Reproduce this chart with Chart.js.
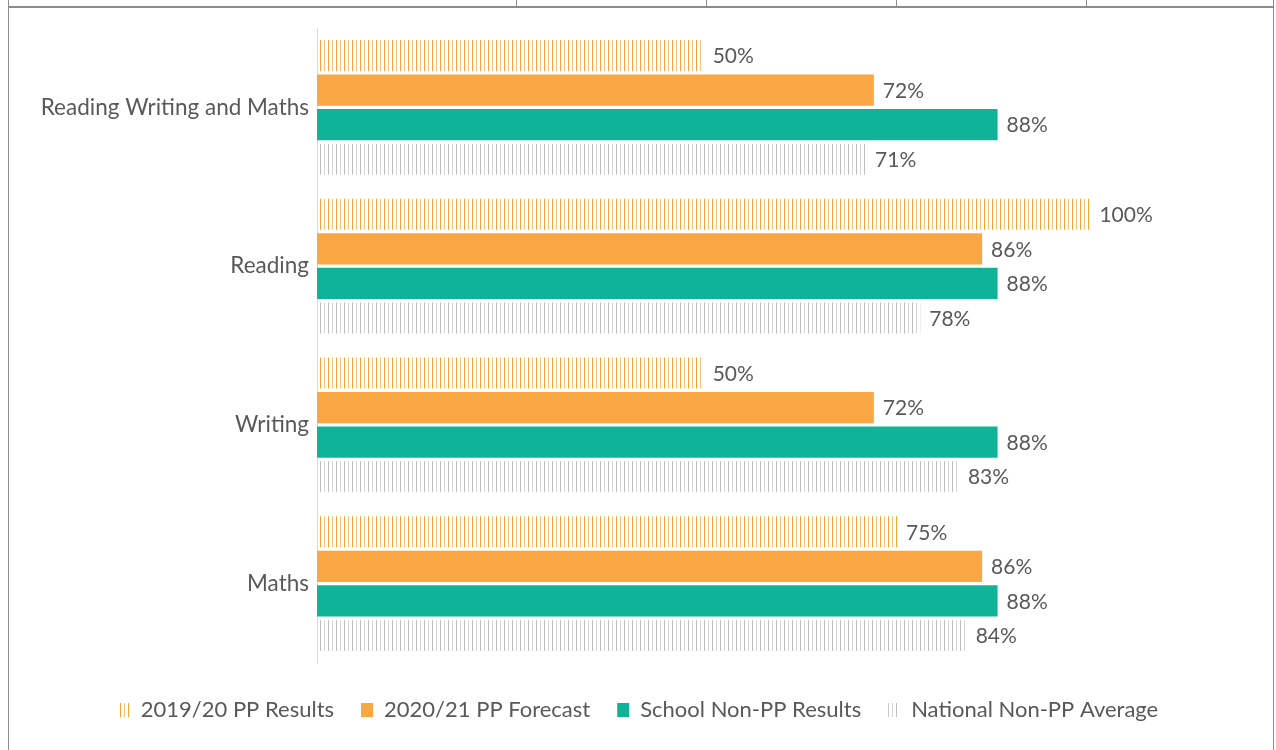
<!DOCTYPE html>
<html>
<head>
<meta charset="utf-8">
<script src="https://cdn.jsdelivr.net/npm/chart.js@4"></script>
<style>
  body { margin: 0; background: #fff; }
  #wrap { position: relative; width: 1276px; height: 750px; overflow: hidden; }
  .ln { position: absolute; background: #8c8c8c; }
  canvas { position: absolute; left: 0; top: 0; }
</style>
</head>
<body>
<div id="wrap">
  <div class="ln" style="left:8px;top:6px;width:1266px;height:2px"></div>
  <div class="ln" style="left:8px;top:0;width:1px;height:750px"></div>
  <div class="ln" style="left:1273px;top:0;width:1px;height:750px"></div>
  <div class="ln" style="left:516px;top:0;width:1px;height:7px"></div>
  <div class="ln" style="left:706px;top:0;width:1px;height:7px"></div>
  <div class="ln" style="left:896px;top:0;width:1px;height:7px"></div>
  <div class="ln" style="left:1086px;top:0;width:1px;height:7px"></div>
  <canvas id="myChart" width="1276" height="750"></canvas>
</div>
<script>
  // subjects and results (%)
  let subjects = ["Reading Writing and Maths", "Reading", "Writing", "Maths"];
  let pp1920 = [50, 100, 50, 75];
  let pp2021 = [72, 86, 72, 86];
  let schoolNonPP = [88, 88, 88, 88];
  let nationalNonPP = [71, 78, 83, 84];

  function stripes(c1, c2) {
    const p = document.createElement("canvas");
    p.width = 8; p.height = 8;
    const g = p.getContext("2d");
    g.fillStyle = c1; g.fillRect(0, 0, 1, 8);
    g.fillStyle = c2; g.fillRect(4, 0, 1, 8);
    return g.createPattern(p, "repeat");
  }

  const valueLabels = {
    id: "valueLabels",
    afterDatasetsDraw(chart) {
      const ctx = chart.ctx;
      ctx.save();
      ctx.font = "21px Lato";
      ctx.fillStyle = "#595959";
      ctx.textBaseline = "middle";
      chart.data.datasets.forEach((ds, i) => {
        chart.getDatasetMeta(i).data.forEach((bar, j) => {
          ctx.fillText(ds.data[j] + "%", bar.x + 9, bar.y + 1);
        });
      });
      ctx.restore();
    }
  };

  const ctx = document.getElementById("myChart");
  new Chart(ctx, {
    type: "bar",
    data: {
      labels: subjects,
      datasets: [
        { label: "2019/20 PP Results", data: pp1920, backgroundColor: stripes("#F7A131", "#FAC27C") },
        { label: "2020/21 PP Forecast", data: pp2021, backgroundColor: "#F9A742" },
        { label: "School Non-PP Results", data: schoolNonPP, backgroundColor: "#10B398" },
        { label: "National Non-PP Average", data: nationalNonPP, backgroundColor: stripes("#BDBDBD", "#D9D9D9") }
      ]
    },
    options: {
      indexAxis: "y",
      responsive: false,
      animation: false,
      categoryPercentage: 0.87,
      barPercentage: 0.9,
      layout: { padding: { top: 28, right: 0, bottom: 19, left: 0 } },
      scales: {
        x: {
          // 100% lands near x=1088, empty room to the right for labels
          min: 0, max: 124,
          grid: { display: false },
          border: { display: false },
          ticks: { display: false },
          afterFit: s => { s.height = 9; }
        },
        y: {
          grid: { display: false },
          border: { color: "#D9D9D9", width: 1 },
          ticks: { color: "#595959", font: { family: "Lato", size: 22.5 }, padding: 0 },
          afterFit: s => { s.width = 317; }
        }
      },
      plugins: {
        tooltip: { enabled: false },
        legend: {
          position: "bottom",
          labels: {
            color: "#595959",
            font: { family: "Lato", size: 22 },
            boxWidth: 12,
            boxHeight: 14,
            padding: 27
          }
        }
      }
    },
    plugins: [valueLabels]
  });
</script>
</body>
</html>
